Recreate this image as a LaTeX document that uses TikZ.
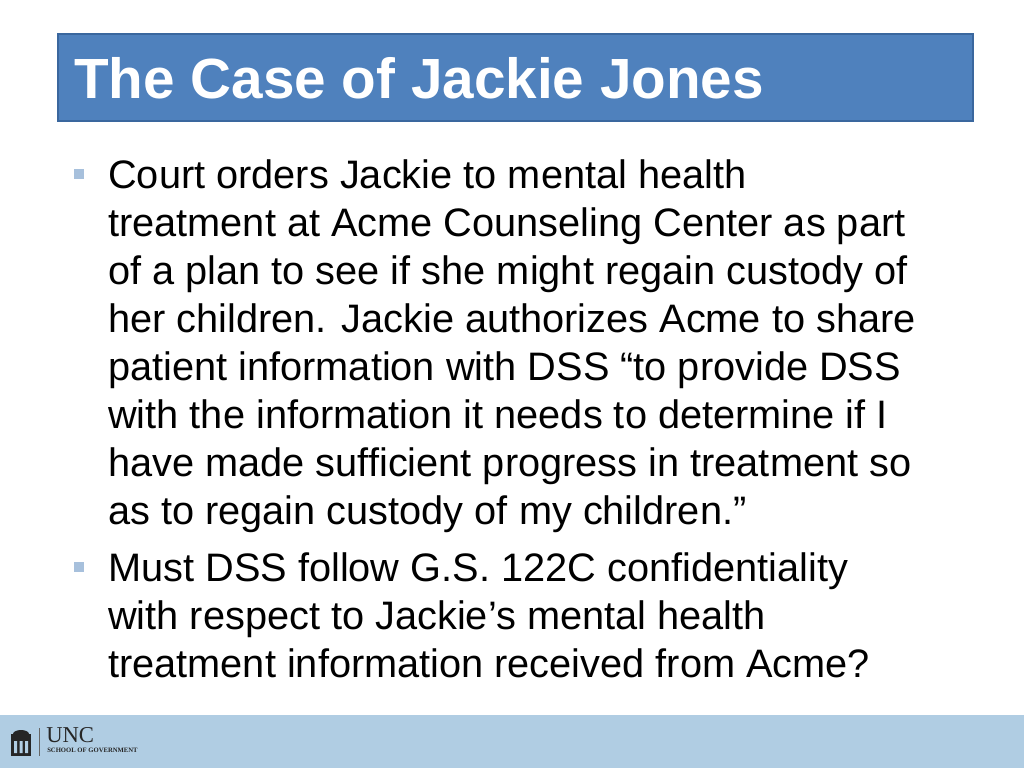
\documentclass[tikz,border=0pt]{standalone}
\usepackage{fontspec}
\setmainfont{Liberation Sans}
\newfontfamily\logofont{Liberation Serif}
\usetikzlibrary{positioning}
\definecolor{titleblue}{HTML}{4F81BD}
\definecolor{titleedge}{HTML}{3A679E}
\definecolor{bulletblue}{HTML}{A7C0DC}
\definecolor{bandblue}{HTML}{B0CDE3}
\tikzset{bodyline/.style={anchor=base west,inner sep=0pt,font=\fontsize{29.8}{32}\selectfont},
  bulletbox/.style={fill=bulletblue,minimum size=8pt,inner sep=0pt}}
\begin{document}
\begin{tikzpicture}[x=0.75pt,y=-0.75pt]
\useasboundingbox (0,0) rectangle (1024,768);
\fill[white] (0,0) rectangle (1024,768);

%TITLE
  \draw[fill=titleblue,draw=titleedge,line width=1.2pt] (58,34) rectangle (973,121);
  \node[anchor=base west,inner sep=0pt,text=white,font=\fontsize{42.5}{46}\selectfont\bfseries] (title) at (74,98) {The Case of Jackie Jones};

%BODY
  \node[bulletbox] (b1) at (79,174) {};
  \node[bodyline] (l1) at (108,188) {Court orders Jackie to mental health};
  \node[bodyline] (l2) at (108,236) {treatment at Acme Counseling Center as part};
  \node[bodyline] (l3) at (108,284) {of a plan to see if she might regain custody of};
  \node[bodyline] (l4) at (108,332) {her children. Jackie authorizes Acme to share};
  \node[bodyline] (l5) at (108,380) {patient information with DSS “to provide DSS};
  \node[bodyline] (l6) at (108,428) {with the information it needs to determine if I};
  \node[bodyline] (l7) at (108,476) {have made sufficient progress in treatment so};
  \node[bodyline] (l8) at (108,524) {as to regain custody of my children.”};
  \node[bulletbox] (b2) at (79,567) {};
  \node[bodyline] (l9) at (108,581) {Must DSS follow G.S. 122C confidentiality};
  \node[bodyline] (l10) at (108,629) {with respect to Jackie’s mental health};
  \node[bodyline] (l11) at (108,677) {treatment information received from Acme?};

%FOOTER
  \fill[bandblue] (0,715) rectangle (1024,768);
  \fill[black!85] (11,734) rectangle (31,756);
  \fill[black!85] (13,734) arc[start angle=180,end angle=0,x radius=8,y radius=-4];
  \fill[bandblue] (14,741) rectangle (17,753) (19.5,741) rectangle (22.5,753) (25,741) rectangle (28,753);
  \draw[black!60] (39,728) -- (39,756);
  \node[anchor=base west,inner sep=0pt,font=\logofont\fontsize{17}{17}\selectfont,text=black!85] (unc) at (46,742) {UNC};
  \node[anchor=base west,inner sep=0pt,font=\logofont\fontsize{5}{5}\selectfont\bfseries,text=black!85] (sog) at (47,752) {SCHOOL OF GOVERNMENT};
\end{tikzpicture}
\end{document}
